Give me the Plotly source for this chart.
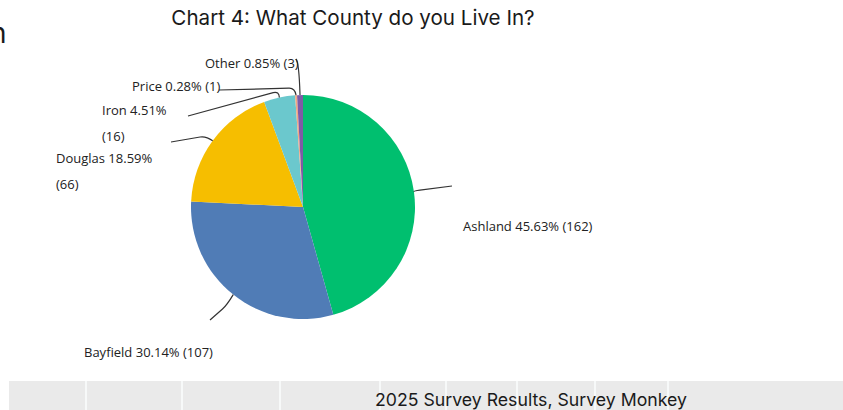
import math
import plotly.graph_objects as go

# Survey responses by county
counties = ["Ashland", "Bayfield", "Douglas", "Iron", "Price", "Other"]
responses = [162, 107, 66, 16, 1, 3]
slice_colors = ["#00BF6F", "#507CB6", "#F6BE00", "#6BC8CD", "#F4A582", "#7D5BA6"]

title_text = "Chart 4: What County do you Live In?"
footer_text = "2025 Survey Results, Survey Monkey"

# ---- layout (pixels) ----
W, H = 843, 410
CX, CY, R = 303, 207, 112          # pie centre and radius


def px(x):
    return x / W


def py(y):
    return 1 - y / H


# leader line: knee point and end point (pixels); label: left edge, first-line centre, wrapped?
leader_geom = {
    "Ashland": [(414, 191), (452, 186)],
    "Bayfield": [(227, 305), (210, 320)],
    "Douglas": [(206, 136), (171, 142)],
    "Iron": [(279, 91), (188, 116)],
    "Price": [(295, 88), (219, 90)],
    "Other": [(299, 62), (296, 59)],
}
label_geom = {
    "Ashland": (461, 226, False),
    "Bayfield": (82, 352, False),
    "Douglas": (54, 158, True),
    "Iron": (100, 110, True),
    "Price": (130, 86, False),
    "Other": (203, 63, False),
}
LINE_GAP = 26

total = sum(responses)
pcts = [100 * v / total for v in responses]

fig = go.Figure(
    go.Pie(
        labels=counties,
        values=responses,
        sort=False,
        direction="clockwise",
        rotation=0,
        marker=dict(colors=slice_colors, line=dict(width=0)),
        textinfo="none",
        showlegend=False,
        domain=dict(x=[px(CX - R), px(CX + R)], y=[py(CY + R), py(CY - R)]),
    )
)

shapes = []
annotations = []
cum = 0
for name, val, pct in zip(counties, responses, pcts):
    mid = (cum + val / 2) / total
    cum += val
    ang = 2 * math.pi * mid
    ax, ay = CX + R * math.sin(ang), CY - R * math.cos(ang)
    (kx, ky), (ex, ey) = leader_geom[name]
    # rounded bend: quadratic to a point just past the knee, then straight to the end
    dx, dy = ex - kx, ey - ky
    d = math.hypot(dx, dy) or 1
    step = min(6, d)
    bx, by = kx + dx / d * step, ky + dy / d * step
    path = (f"M {px(ax)},{py(ay)} Q {px(kx)},{py(ky)} {px(bx)},{py(by)} "
            f"L {px(ex)},{py(ey)}")
    shapes.append(dict(type="path", xref="paper", yref="paper", path=path,
                       line=dict(color="#333333", width=1.2)))

    first = f"{name} {pct:.2f}%"
    second = f"({val})"
    lx, ly, wrap = label_geom[name]
    lines = [first, second] if wrap else [f"{first} {second}"]
    for i, t in enumerate(lines):
        annotations.append(dict(
            text=t, xref="paper", yref="paper", x=px(lx), y=py(ly + i * LINE_GAP),
            xanchor="left", yanchor="middle", showarrow=False,
            font=dict(family="Open Sans", size=13, color="#222222"),
        ))

# spreadsheet strip at the bottom
shapes.append(dict(type="rect", xref="paper", yref="paper", x0=px(9), x1=1,
                   y0=py(410), y1=py(381), fillcolor="#EAEAEA", line=dict(width=0),
                   layer="below"))
for gx in [86, 182, 280, 380, 446, 517, 595, 668]:
    shapes.append(dict(type="line", xref="paper", yref="paper", x0=px(gx), x1=px(gx),
                       y0=py(410), y1=py(381), line=dict(color="#F7F9F9", width=2),
                       layer="below"))

annotations.append(dict(
    text=footer_text, xref="paper", yref="paper", x=px(531), y=py(399),
    xanchor="center", yanchor="middle", showarrow=False,
    font=dict(family="Inter", size=17.7, color="#1a1a1a"),
))
annotations.append(dict(
    text="n", xref="paper", yref="paper", x=px(9), y=py(33),
    xanchor="right", yanchor="middle", showarrow=False,
    font=dict(family="Inter", size=28, color="#1a1a1a"),
))

fig.update_layout(
    width=W, height=H,
    margin=dict(l=0, r=0, t=0, b=0),
    paper_bgcolor="white", plot_bgcolor="white",
    title=dict(text=title_text, x=px(353), xanchor="center", y=py(18),
               yanchor="middle", yref="container",
               font=dict(family="Inter", size=20.6, color="#1a1a1a")),
    shapes=shapes, annotations=annotations,
)

fig.write_html("out.html")
